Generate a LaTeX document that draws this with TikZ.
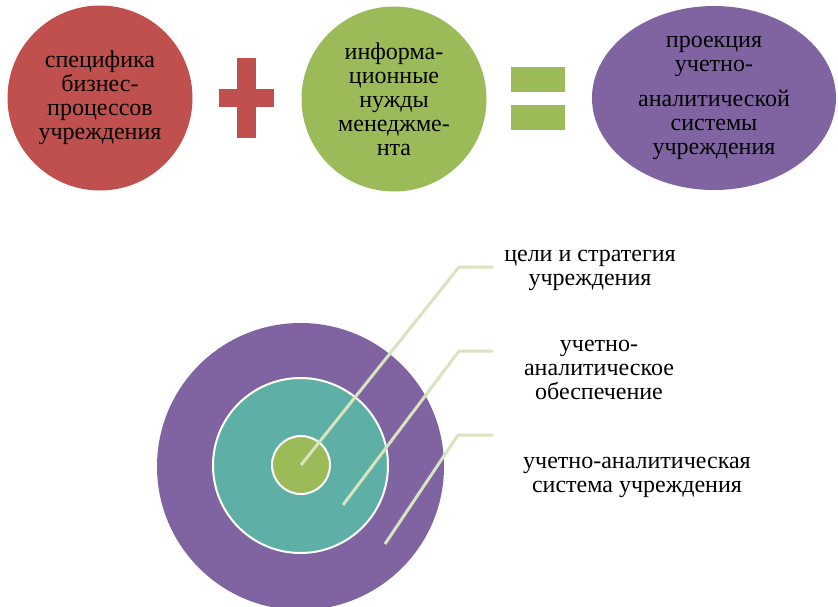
\documentclass[tikz,border=0pt]{standalone}
\usepackage{fontspec}
\setmainfont{Liberation Serif}
\usetikzlibrary{shapes.geometric}
\definecolor{brick}{HTML}{C0504D}
\definecolor{leaf}{HTML}{9BBB59}
\definecolor{plum}{HTML}{8064A2}
\definecolor{sea}{HTML}{5EAFA5}
\definecolor{sage}{HTML}{D7E4BD}
\begin{document}
\begin{tikzpicture}[x=1pt,y=-1pt,txt/.style={font=\fontsize{24}{24}\selectfont,align=center,inner sep=0pt},leader/.style={sage,line width=3pt}]
\useasboundingbox (0,0) rectangle (838,606);
% top row: specifics + needs = projection
\node[circle,fill=brick,minimum size=185pt,txt] (spec) at (100,98) {специфика\\бизнес-\\процессов\\учреждения};
\fill[brick] (219,89) rectangle (274,107); \fill[brick] (237,58) rectangle (256,138);
\node[circle,fill=leaf,minimum size=185pt,txt] (needs) at (394,99) {информа-\\ционные\\нужды\\менеджме-\\нта};
\fill[leaf] (511,67) rectangle (565,92); \fill[leaf] (511,105) rectangle (565,130);
\node[ellipse,fill=plum,minimum width=244pt,minimum height=184pt,txt] (proj) at (714,98) {проекция\\учетно-\\[11pt]аналитической\\системы\\учреждения};
% bottom: nested circles
\node[circle,fill=plum,minimum size=287pt,inner sep=0pt] (sys) at (300.5,466.5) {};
\node[circle,fill=sea,draw=white,line width=2pt,minimum size=175pt,inner sep=0pt] (supp) at (300.5,465.5) {};
\node[circle,fill=leaf,draw=white,line width=2pt,minimum size=58pt,inner sep=0pt] (goal) at (301,465) {};
\coordinate (p2) at (343,505); \coordinate (p3) at (385,544);
\coordinate (b1) at (459,267); \coordinate (b2) at (459,351); \coordinate (b3) at (458,435);
\coordinate (e1) at (493,267); \coordinate (e2) at (493,351); \coordinate (e3) at (493,435);
\draw[leader] (goal.center) -- (b1) -- (e1); \draw[leader] (p2) -- (b2) -- (e2); \draw[leader] (p3) -- (b3) -- (e3);
\node[txt] (lgoal) at (590,270) {цели и стратегия\\учреждения};
\node[txt] (lsupp) at (599,370) {учетно-\\аналитическое\\обеспечение};
\node[txt] (lsys) at (637,477) {учетно-аналитическая\\система учреждения};
\end{tikzpicture}
\end{document}
